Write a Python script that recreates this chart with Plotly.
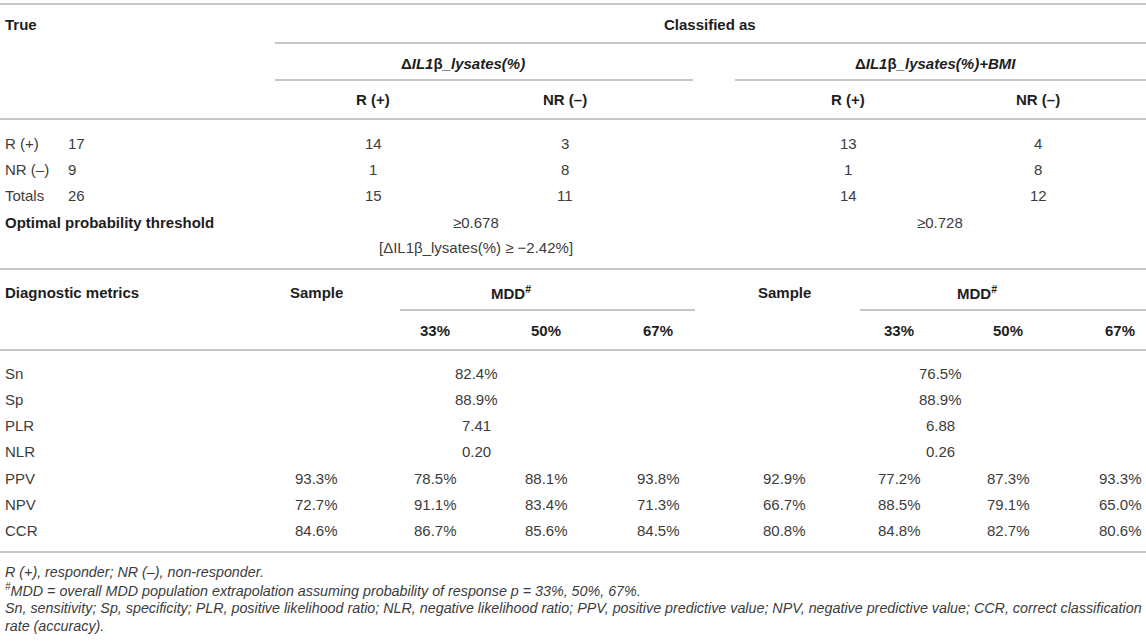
import plotly.graph_objects as go

# ---- data ----
true_labels = ["R (+)", "NR (–)", "Totals"]
true_counts = [17, 9, 26]
il1b_r = [14, 1, 15]
il1b_nr = [3, 8, 11]
bmi_r = [13, 1, 14]
bmi_nr = [4, 8, 12]
thresholds = ["≥0.678", "≥0.728"]
threshold_note = "[ΔIL1β_lysates(%) ≥ −2.42%]"

metrics = ["Sn", "Sp", "PLR", "NLR", "PPV", "NPV", "CCR"]
il1b_shared = ["82.4%", "88.9%", "7.41", "0.20"]
bmi_shared = ["76.5%", "88.9%", "6.88", "0.26"]
# PPV, NPV, CCR
il1b_sample = [93.3, 72.7, 84.6]
il1b_mdd33 = [78.5, 91.1, 86.7]
il1b_mdd50 = [88.1, 83.4, 85.6]
il1b_mdd67 = [93.8, 71.3, 84.5]
bmi_sample = [92.9, 66.7, 80.8]
bmi_mdd33 = [77.2, 88.5, 84.8]
bmi_mdd50 = [87.3, 79.1, 82.7]
bmi_mdd67 = [93.3, 65.0, 80.6]
mdd_levels = ["33%", "50%", "67%"]

footnotes = [
    "R (+), responder; NR (–), non-responder.",
    "<sup>#</sup>MDD = overall MDD population extrapolation assuming probability of response p = 33%, 50%, 67%.",
    "Sn, sensitivity; Sp, specificity; PLR, positive likelihood ratio; NLR, negative likelihood ratio; "
    "PPV, positive predictive value; NPV, negative predictive value; CCR, correct classification",
    "rate (accuracy).",
]

# ---- layout positions (page pixels) ----
W, H = 1146, 642
FONT = "Liberation Sans, Arial, Helvetica, sans-serif"
BODY = "#3c3c3c"
HEAD = "#1e1e1e"
LINE = "#b4b4b4"
FS = 15

x_label = 3
x_count = 66
x_top = [373, 565, 848, 1038]
x_thr = [476, 940]
x_bot = [316, 435, 546, 658, 784, 899, 1008, 1120]
x_mdd = [511, 977]
x_shared = [476, 940]

y_top_rows = [143, 169, 195]
y_thr = 222
y_note = 247
y_bot_rows = [373, 399, 425, 451, 478, 504, 530]
y_foot = [572, 590, 608, 626]

rules = [
    (0, W, 4), (275, W, 43), (275, 693, 80), (735, W, 80), (0, W, 119),
    (0, W, 269), (400, 695, 310), (860, W, 310), (0, W, 350), (0, W, 552),
]

ann = []


def txt(x, y, s, anchor="center", bold=False, italic=False, size=FS, color=None):
    if bold:
        s = "<b>" + s + "</b>"
    if italic:
        s = "<i>" + s + "</i>"
    ann.append(dict(
        x=x, y=y, text=s, xref="x", yref="y", showarrow=False,
        xanchor=anchor, yanchor="middle",
        font=dict(family=FONT, size=size, color=color or (HEAD if bold else BODY)),
    ))


# header of top part
txt(x_label, 24, "True", "left", bold=True)
txt(710, 24, "Classified as", bold=True)
txt(463, 63, "<b>Δ<i>IL1</i>β<i>_lysates(%)</i></b>", color=HEAD)
txt(935, 63, "<b>Δ<i>IL1</i>β<i>_lysates(%)+BMI</i></b>", color=HEAD)
for i, h in enumerate(["R (+)", "NR (–)", "R (+)", "NR (–)"]):
    txt(x_top[i], 99, h, bold=True)

# confusion counts
cols = [il1b_r, il1b_nr, bmi_r, bmi_nr]
for r, lab in enumerate(true_labels):
    y = y_top_rows[r]
    txt(x_label, y, lab, "left")
    txt(x_count, y, str(true_counts[r]), "left")
    for c in range(4):
        txt(x_top[c], y, str(cols[c][r]))

txt(x_label, y_thr, "Optimal probability threshold", "left", bold=True)
for i, t in enumerate(thresholds):
    txt(x_thr[i], y_thr, t)
txt(x_thr[0], y_note, threshold_note)

# header of bottom part
txt(x_label, 292, "Diagnostic metrics", "left", bold=True)
txt(x_bot[0], 292, "Sample", bold=True)
txt(x_bot[4], 292, "Sample", bold=True)
for xm in x_mdd:
    txt(xm, 292, "MDD<sup>#</sup>", bold=True)
for i, lv in enumerate(mdd_levels * 2):
    txt(x_bot[[1, 2, 3, 5, 6, 7][i]], 330, lv, bold=True)

# metrics
for r, m in enumerate(metrics):
    txt(x_label, y_bot_rows[r], m, "left")
for r in range(4):
    txt(x_shared[0], y_bot_rows[r], il1b_shared[r])
    txt(x_shared[1], y_bot_rows[r], bmi_shared[r])
series = [il1b_sample, il1b_mdd33, il1b_mdd50, il1b_mdd67,
          bmi_sample, bmi_mdd33, bmi_mdd50, bmi_mdd67]
for c, vals in enumerate(series):
    for r, v in enumerate(vals):
        txt(x_bot[c], y_bot_rows[4 + r], f"{v:.1f}%")

# footnotes
for i, f in enumerate(footnotes):
    txt(x_label, y_foot[i], f, "left", italic=True, size=14.3)

shapes = [
    dict(type="line", xref="x", yref="y", x0=a, x1=b, y0=y, y1=y,
         line=dict(color=LINE, width=1.5))
    for a, b, y in rules
]

fig = go.Figure()
fig.add_trace(go.Scatter(x=[0, W], y=[0, H], mode="markers",
                         marker=dict(opacity=0), hoverinfo="skip", showlegend=False))
fig.update_layout(
    width=W, height=H,
    margin=dict(l=0, r=0, t=0, b=0),
    paper_bgcolor="white", plot_bgcolor="white",
    xaxis=dict(range=[0, W], visible=False, fixedrange=True),
    yaxis=dict(range=[H, 0], visible=False, fixedrange=True),
    annotations=ann, shapes=shapes, showlegend=False,
)
fig.write_html(
    "out.html",
    config={"displayModeBar": False},
    post_script="document.body.style.margin='0';document.body.style.overflow='hidden';",
)
